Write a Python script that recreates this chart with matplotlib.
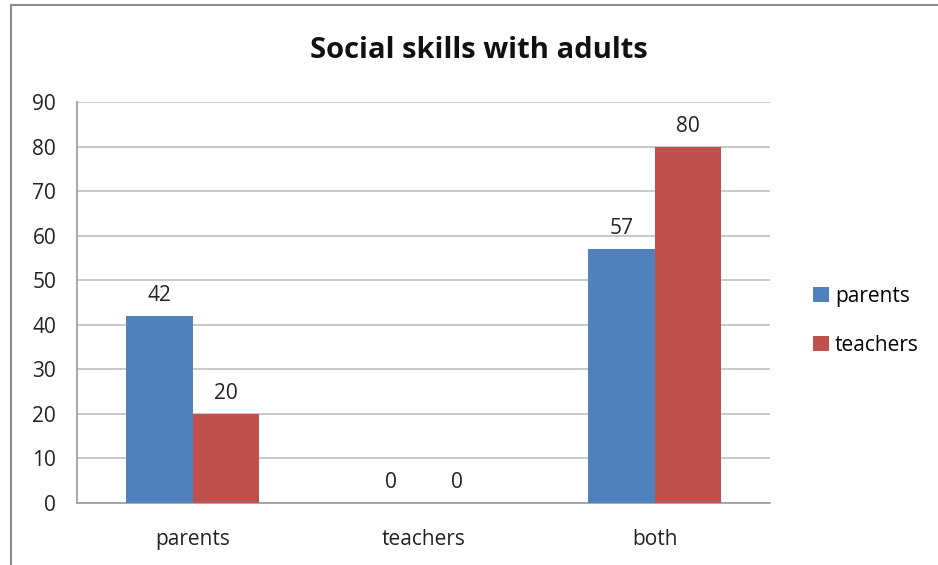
import numpy as np
import matplotlib
matplotlib.use('Agg')
import matplotlib.pyplot as plt
from matplotlib.lines import Line2D

categories = ['parents', 'teachers', 'both']
parents = [42, 0, 57]
teachers = [20, 0, 80]
series_names = ['parents', 'teachers']
yticks = [0, 10, 20, 30, 40, 50, 60, 70, 80, 90]

plt.rcParams['font.family'] = ['Open Sans', 'DejaVu Sans']

fig = plt.figure(figsize=(9.38, 5.65), dpi=100)
ax = fig.add_axes([0.0821, 0.1097, 0.7388, 0.7097])

x = np.arange(len(categories))
w = 0.286
b1 = ax.bar(x - w / 2, parents, w, color='#4f81bd', label=series_names[0], zorder=3)
b2 = ax.bar(x + w / 2, teachers, w, color='#c0504d', label=series_names[1], zorder=3)

for bars, vals in ((b1, parents), (b2, teachers)):
    for rect, v in zip(bars, vals):
        ax.annotate(str(v), (rect.get_x() + rect.get_width() / 2, v),
                    xytext=(0, 7), textcoords='offset points',
                    ha='center', va='bottom', fontsize=15, color='#222222')

ax.set_xlim(-0.5, 2.5)
ax.set_ylim(0, 90)
ax.set_yticks(yticks)
ax.set_xticks(x)
ax.set_xticklabels(categories)
ax.tick_params(axis='x', length=0, pad=19, labelsize=15, colors='#222222')
ax.tick_params(axis='y', length=0, pad=15, labelsize=15, colors='#222222')
ax.grid(axis='y', color='#bfbfbf', linewidth=1.2, zorder=0)
for s in ('top', 'right'):
    ax.spines[s].set_visible(False)
for s in ('left', 'bottom'):
    ax.spines[s].set_color('#9a9a9a')
    ax.spines[s].set_linewidth(1.2)

fig.text(0.51, 0.911, 'Social skills with adults', ha='center', va='center',
         fontsize=21, fontweight='bold', color='#111111')

ax.legend(loc='center left', bbox_to_anchor=(1.035, 0.455), frameon=False,
          fontsize=15, handlelength=0.75, handleheight=0.75, handletextpad=0.3,
          labelspacing=1.35)

# outer chart frame (left and top edges)
fig.add_artist(Line2D([11 / 938, 11 / 938], [0, 1 - 5 / 565], color='#8c8c8c', lw=1.5))
fig.add_artist(Line2D([11 / 938, 1], [1 - 5 / 565, 1 - 5 / 565], color='#8c8c8c', lw=1.5))

plt.savefig('out.png')
